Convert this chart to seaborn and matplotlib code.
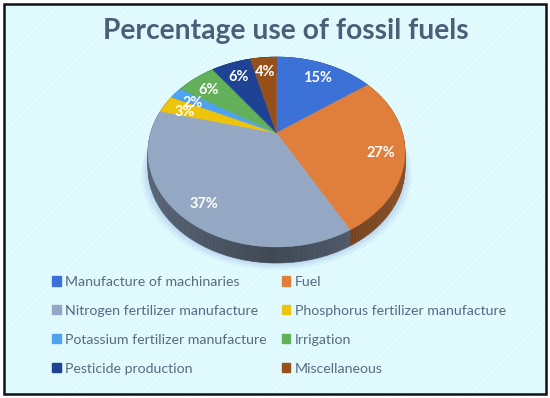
import numpy as np
import matplotlib
matplotlib.use("Agg")
import matplotlib.pyplot as plt
from matplotlib.patches import Patch, Rectangle
import seaborn as sns

categories = ['Manufacture of machinaries', 'Fuel', 'Nitrogen fertilizer manufacture',
              'Phosphorus fertilizer manufacture', 'Potassium fertilizer manufacture',
              'Irrigation', 'Pesticide production', 'Miscellaneous']
shares = [15, 27, 37, 3, 2, 6, 6, 4]
slice_colors = ['#3c72d8', '#df7f3b', '#94a8c4', '#eec40a', '#4fa3f0', '#63b05a', '#1f4394', '#97501a']

sns.set_style("white")
palette = sns.color_palette(slice_colors)
plt.rcParams['font.family'] = ['Lato', 'DejaVu Sans']
plt.rcParams['hatch.linewidth'] = 0.5

# pie geometry in image pixels, the tilt is a perspective map of the unit circle
APEX_X, APEX_Y = 276.5, 133
TILT, SCALE_X, SCALE_Y = 0.2, 125.9, 91.2
DEPTH = 16


def project(x, y):
    w = 1 + TILT * y
    return APEX_X + SCALE_X * x / w, APEX_Y - SCALE_Y * y / w


def arc(theta1, theta2, radius=1.0):
    t = np.radians(np.arange(theta1, theta2, 1.5).tolist() + [theta2])
    return project(radius * np.cos(t), radius * np.sin(t))


fig = plt.figure(figsize=(5.5, 3.98), dpi=100)
ax = fig.add_axes([0, 0, 1, 1])
wedges, _, pct_labels = ax.pie(shares, colors=palette, startangle=90, counterclock=False,
                               autopct='%.0f%%', pctdistance=0.82)
ax.set_aspect('auto')
ax.set_xlim(0, 550)
ax.set_ylim(398, 0)
ax.axis('off')

ax.add_patch(Rectangle((0, 0), 550, 398, facecolor='white', edgecolor='none', zorder=0))
ax.add_patch(Rectangle((4, 4), 542, 390, facecolor='#e2fbff', edgecolor='#daf5fa', hatch='//////',
                       linewidth=0, zorder=0.1))
ax.add_patch(Rectangle((4, 4), 542, 390, facecolor='none', edgecolor='#111111', linewidth=1.8, zorder=9))

# soft shadow under the pie
gx, gy = arc(0, 360)
for grow, alpha in [(7, 0.05), (5, 0.07), (3, 0.09), (1, 0.12)]:
    cx = APEX_X + (gx - APEX_X) * (1 + grow / 128)
    ax.fill(cx, gy + DEPTH + grow, color='#5b7fd0', alpha=alpha, lw=0, zorder=0.5)

# side wall, then the top
for wedge, color in zip(wedges, palette):
    wedge.set_visible(False)
    xs, ys = arc(wedge.theta1, wedge.theta2)
    for i in range(len(xs) - 1):
        shade = 0.62 - 0.2 * (1 - abs(xs[i] - 270) / 140)
        side = [c * max(shade, 0.3) for c in color]
        ax.fill([xs[i], xs[i + 1], xs[i + 1], xs[i]],
                [ys[i], ys[i + 1], ys[i + 1] + DEPTH, ys[i] + DEPTH],
                color=side, lw=0.4, zorder=1)
for wedge, color in zip(wedges, palette):
    xs, ys = arc(wedge.theta1, wedge.theta2)
    ax.fill(np.r_[APEX_X, xs], np.r_[APEX_Y, ys], color=color, lw=0.3, zorder=2)

for label in pct_labels:
    x, y = label.get_position()
    px, py = project(x, y)
    label.set_position((px, py + 3))
    label.set(color='white', fontsize=10.5, fontweight='bold', zorder=3)

ax.text(286, 31, 'Percentage use of fossil fuels', color='#4d5f78', fontsize=20.3,
        fontweight='bold', ha='center', va='center', zorder=3)

order = [0, 2, 4, 6, 1, 3, 5, 7]
handles = [Patch(color=palette[i]) for i in order]
ax.legend(handles, [categories[i] for i in order], ncol=2, loc='upper left', frameon=False,
          bbox_to_anchor=(52 / 550, 1 - 276 / 398), fontsize=10.2, labelcolor='#5a6a80',
          handlelength=0.62, handleheight=0.62, handletextpad=0.3, labelspacing=1.19,
          columnspacing=1.05, borderaxespad=0, borderpad=0)

fig.savefig('out.png', dpi=100)
